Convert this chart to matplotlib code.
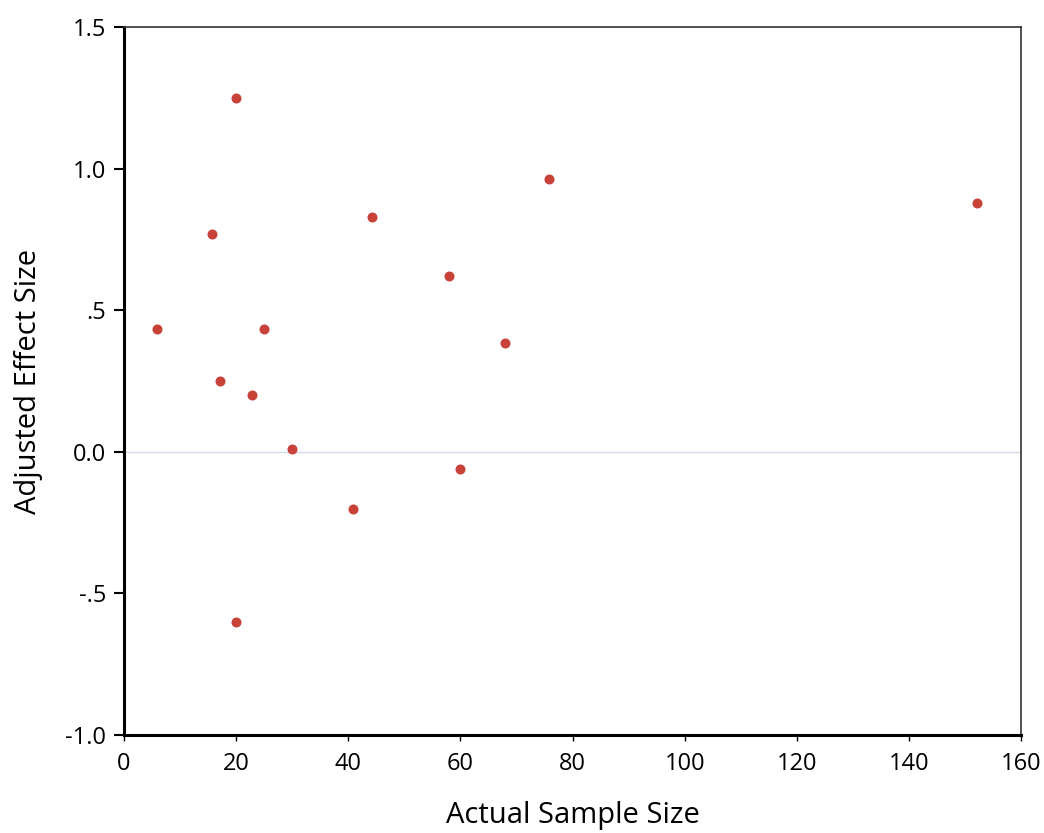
import numpy as np
import matplotlib
matplotlib.use("Agg")
import matplotlib.pyplot as plt

plt.rcParams['font.family'] = ['Open Sans', 'DejaVu Sans']

# sample size vs adjusted effect size
sample_size = [5.9, 15.7, 17.1, 20.0, 20.0, 22.8, 25.0, 30.0, 40.8, 44.2,
               58.0, 59.9, 68.0, 75.8, 152.2]
effect_size = [0.434, 0.769, 0.25, 1.249, -0.601, 0.20, 0.434, 0.01, -0.202, 0.829,
               0.621, -0.061, 0.384, 0.963, 0.879]

x_ticks = [0, 20, 40, 60, 80, 100, 120, 140, 160]
y_ticks = [-1.0, -0.5, 0.0, 0.5, 1.0, 1.5]
y_labels = ['-1.0', '-.5', '0.0', '.5', '1.0', '1.5']

fig = plt.figure(figsize=(10.44, 8.33), dpi=100)
ax = fig.add_axes([0.1188, 0.1176, 0.8592, 0.85])

ax.axhline(0, color='#d3dbe8', lw=1, zorder=1)
ax.scatter(sample_size, effect_size, s=52, color='#c8423a', zorder=3, linewidths=0)

ax.set_xlim(0, 160)
ax.set_ylim(-1.0, 1.5)
ax.set_xticks(x_ticks)
ax.set_yticks(y_ticks)
ax.set_yticklabels(y_labels)

ax.spines['left'].set_linewidth(2.2)
ax.spines['bottom'].set_linewidth(2.2)
ax.spines['top'].set_linewidth(1.2)
ax.spines['right'].set_linewidth(1.2)
ax.spines['top'].set_color('#333333')
ax.spines['right'].set_color('#333333')

ax.tick_params(axis='y', direction='out', length=7, width=1.5, labelsize=17, pad=6)
ax.tick_params(axis='x', direction='out', length=4, width=1, labelsize=17, pad=8)

ax.set_xlabel('Actual Sample Size', fontsize=21, labelpad=18)
ax.set_ylabel('Adjusted Effect Size', fontsize=21, labelpad=16)

fig.savefig('out.png', dpi=100)
